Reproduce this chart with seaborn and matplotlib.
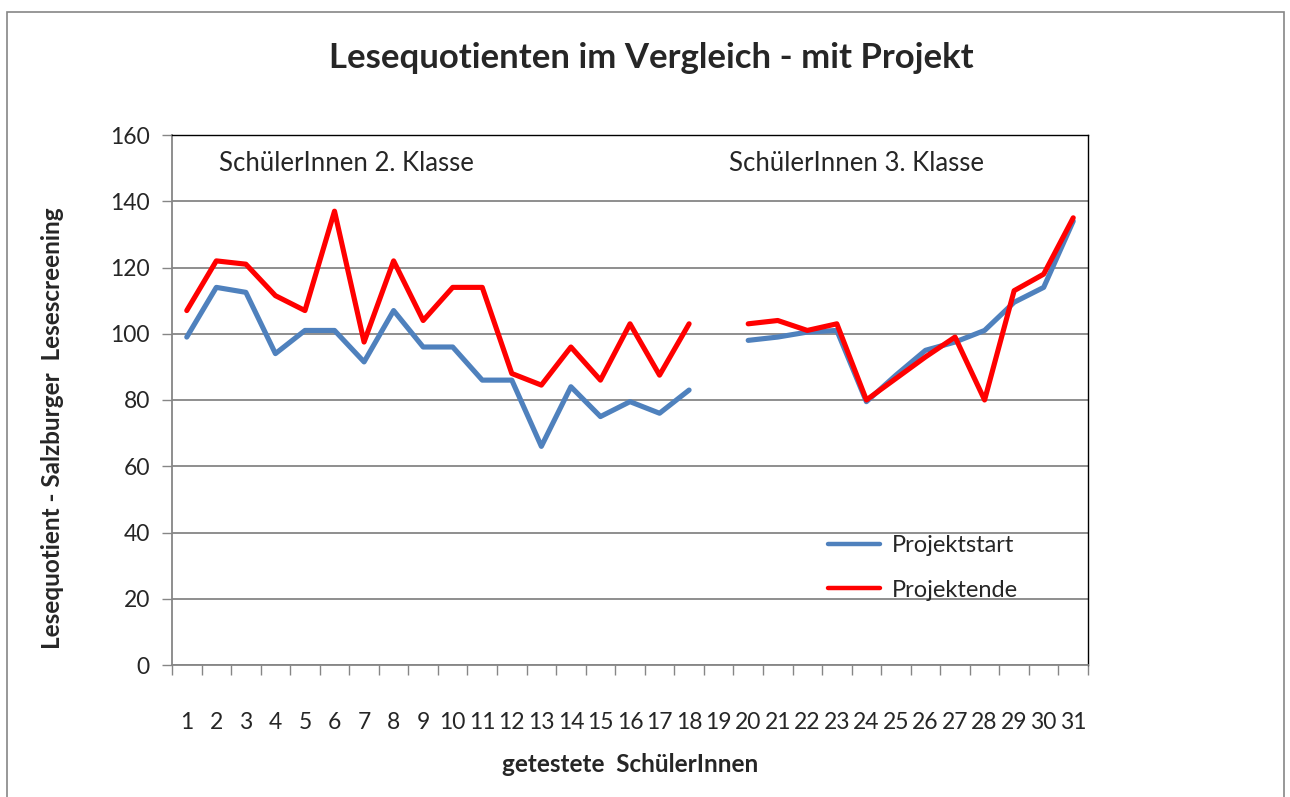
import numpy as np
import pandas as pd
import matplotlib
matplotlib.use("Agg")
import matplotlib.pyplot as plt
import seaborn as sns
from matplotlib.lines import Line2D
from matplotlib.patches import Rectangle

students = list(range(1, 32))
projektstart = [99, 114, 112.5, 94, 101, 101, 91.5, 107, 96, 96, 86, 86, 66, 84, 75, 79.5, 76, 83,
                np.nan, 98, 99, 100.5, 101, 79.5, 87.5, 95, 97.5, 101, 109.5, 114, 134]
projektende = [107, 122, 121, 111.5, 107, 137, 97.5, 122, 104, 114, 114, 88, 84.5, 96, 86, 103, 87.5, 103,
               np.nan, 103, 104, 101, 103, 80, 86.5, 93, 99, 80, 113, 118, 135]
series_names = ["Projektstart", "Projektende"]
colors = ["#4F81BD", "#FF0000"]
title = "Lesequotienten im Vergleich - mit Projekt"
xlabel = "getestete  SchülerInnen"
ylabel = "Lesequotient - Salzburger  Lesescreening"
class_labels = ["SchülerInnen 2. Klasse", "SchülerInnen 3. Klasse"]

sns.set_theme(style="white")
plt.rcParams["font.family"] = ["Lato", "DejaVu Sans"]

rows = []
for name, vals in zip(series_names, [projektstart, projektende]):
    for s, v in zip(students, vals):
        if not np.isnan(v):
            rows.append({"Schüler": s, "LQ": v, "Serie": name, "seg": 0 if s < 19 else 1})
df = pd.DataFrame(rows)

fig = plt.figure(figsize=(12.9, 7.97), dpi=100)
ax = fig.add_axes([172/1290, 1-665/797, 916/1290, 530/797])

sns.lineplot(data=df, x="Schüler", y="LQ", hue="Serie", units="seg", estimator=None,
             palette=dict(zip(series_names, colors)), linewidth=3.7, ax=ax, legend=False,
             zorder=3)

ax.set_xlim(0.5, 31.5)
ax.set_ylim(0, 160)
ax.set_yticks(range(0, 161, 20))
ax.set_xticks(students)
ax.set_xticklabels([str(s) for s in students], fontsize=16.5)
ax.set_xticks(np.arange(0.5, 32, 1), minor=True)
ax.tick_params(axis="x", which="major", length=0, pad=34)
ax.tick_params(axis="x", which="minor", length=7, width=1, color="#868686", direction="out", bottom=True)
ax.tick_params(axis="y", which="major", length=7, width=1, color="#868686", direction="out", left=True,
               labelsize=16.5, pad=9)
ax.yaxis.grid(True, color="#868686", linewidth=1.3)
ax.xaxis.grid(False)
ax.set_axisbelow(True)
for side in ["top", "right"]:
    ax.spines[side].set_color("black")
    ax.spines[side].set_linewidth(1)
for side in ["left", "bottom"]:
    ax.spines[side].set_color("#868686")
    ax.spines[side].set_linewidth(1.3)

ax.set_xlabel(xlabel, fontsize=17.5, fontweight="bold", labelpad=14)
ax.set_ylabel(ylabel, fontsize=17.5, fontweight="bold")
ax.yaxis.set_label_coords(-0.118, 0.447)

fig.text(651/1290, 1-58/797, title, ha="center", va="center", fontsize=25, fontweight="bold")

ax.text(2.1, 151.5, class_labels[0], fontsize=18.5, va="center", ha="left")
ax.text(19.35, 151.5, class_labels[1], fontsize=18.5, va="center", ha="left")

handles = [Line2D([0], [0], color=c, linewidth=3.2) for c in colors]
ax.legend(handles, series_names, loc="upper left", bbox_to_anchor=(0.706, 0.263), frameon=False,
          fontsize=17, handlelength=2.2, labelspacing=1.0, handletextpad=0.5, borderaxespad=0)

fig.patches.append(Rectangle((7/1290, -0.05), 1277/1290, 1.05-12/797, transform=fig.transFigure,
                             fill=False, edgecolor="#868686", linewidth=1.2))

fig.savefig("out.png", dpi=100)
